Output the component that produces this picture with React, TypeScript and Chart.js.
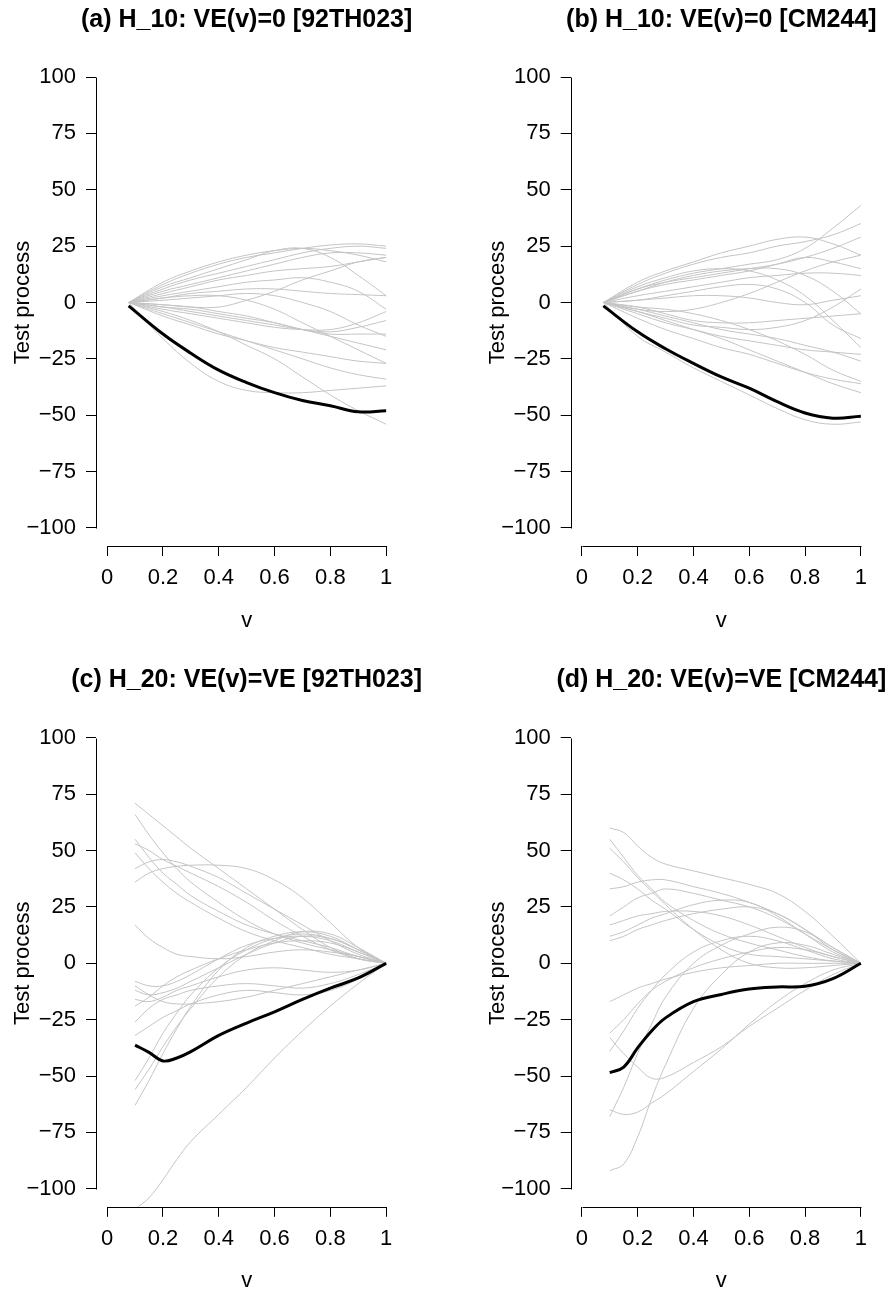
import React, { useEffect, useRef } from "react";
import { Chart, registerables } from "chart.js";
Chart.register(...registerables);

// ---------- data ----------
const vTop = [0.077, 0.2, 0.3, 0.4, 0.5, 0.6, 0.7, 0.8, 0.9, 1.0];
const vBottom = [0.1, 0.15, 0.2, 0.25, 0.3, 0.4, 0.5, 0.6, 0.7, 0.8, 0.9, 1.0];

const xTicks = [0, 0.2, 0.4, 0.6, 0.8, 1];
const yTicks = [-100, -75, -50, -25, 0, 25, 50, 75, 100];

const titles = [
  "(a) H_10: VE(v)=0 [92TH023]",
  "(b) H_10: VE(v)=0 [CM244]",
  "(c) H_20: VE(v)=VE [92TH023]",
  "(d) H_20: VE(v)=VE [CM244]",
];

const blackA = [-1.5, -14, -22.5, -30, -35.5, -40, -43.5, -45.8, -48.5, -48];
const greyA = [
  [0, 8, 13, 17, 20, 22, 24, 25.5, 26, 25],
  [0, 9, 14, 18, 21, 23, 24, 23, 21, 18],
  [0, 6, 10, 13, 16, 19, 22, 24, 25, 24],
  [0, 5, 8, 11, 14, 17, 20, 22, 22, 21],
  [0, 4, 7, 10, 12, 14, 15, 16, 18, 20],
  [0, 7, 11, 15, 19, 23, 24, 20, 12, 3],
  [0, 3, 5, 7, 9, 10, 11, 9, 5, -3],
  [0, -1, -2, -2, 1, 5, 10, 14, 18, 20],
  [0, 2, 4, 5, 6, 6, 5, 4, 3.5, 3],
  [0, 1, 2, 3, 4, 3, 0, -4, -10, -15],
  [0, -2, -4, -6, -8, -10, -12, -13, -11, -8],
  [0, -3, -5, -7, -9, -11, -12, -12, -9, -4],
  [0, -2, -3, -5, -7, -9, -12, -15, -18, -21],
  [0, -1, -2, -4, -6, -9, -12, -14, -14, -14],
  [0, 2, 3, 3, 1, -3, -9, -15, -21, -27],
  [0, -5, -9, -13, -17, -21, -25, -29, -32, -34],
  [0, -16, -27, -35, -39, -40, -40, -39, -38, -37],
  [0, -4, -8, -13, -19, -25, -33, -41, -48, -54],
  [0, -6, -10, -14, -17, -20, -22, -24, -26, -27],
];

const blackB = [-1.5, -13, -20.5, -27, -33, -38, -44, -49, -51.3, -50.5];
const greyB = [
  [0, 9, 14, 18, 22, 25, 28, 29, 26, 21],
  [0, 8, 13, 17, 20, 22, 25, 27, 30, 35],
  [0, 6, 10, 13, 15, 17, 19, 24, 33, 43],
  [0, 6, 9, 11, 13, 15, 17, 20, 24, 29],
  [0, 5, 8, 10, 12, 14, 17, 20, 18, 15],
  [0, 5, 9, 12, 14, 15, 15, 12, 5, -5],
  [0, 7, 11, 14, 15, 14, 10, 3, -8, -20],
  [0, 3, 5, 7, 9, 11, 12, 13, 13, 12],
  [0, 1, 2, 3, 3, 2, 0, -1, 1, 3],
  [0, -3, -4, -3, 0, 4, 9, 14, 18, 21],
  [0, -2, -5, -8, -9, -9, -8, -7, -6, -5],
  [0, -4, -7, -10, -11, -12, -11, -8, -2, 6],
  [0, -3, -6, -9, -12, -14, -16, -19, -22, -26],
  [0, -2, -3, -5, -8, -12, -17, -23, -30, -35],
  [0, -5, -9, -12, -15, -17, -19, -21, -22, -23],
  [0, -4, -8, -12, -16, -21, -26, -31, -36, -40],
  [0, -7, -12, -16, -20, -23, -27, -31, -34, -36],
  [0, -15, -22, -29, -35, -41, -47, -52, -54, -53],
  [0, 1, 3, 5, 7, 8, 6, 0, -10, -16],
];

const blackC = [-36.3, -39.5, -43.3, -42, -39.2, -32, -26.5, -21.5, -16, -11, -6.5, 0];
const greyC = [
  [71, 66, 61, 56, 51, 42, 33, 24, 15, 7, 2, 0],
  [66, 57, 49, 42, 36, 27, 19, 13, 9, 6, 3, 0],
  [55, 47, 40, 35, 30, 23, 17, 13, 10, 7, 3, 0],
  [53, 50, 46, 43, 40, 34, 27, 19, 12, 6, 2, 0],
  [49, 42, 36, 31, 27, 20, 14, 10, 7, 4, 2, 0],
  [42, 45, 46, 45, 43, 38, 31, 24, 17, 10, 4, 0],
  [36, 40, 42, 43, 43.5, 43.5, 42, 37, 29, 18, 7, 0],
  [17, 11, 7, 4, 3, 2, 3, 5, 6, 5, 3, 0],
  [-8, -10, -10, -8, -5, 2, 8, 11, 12, 10, 5, 0],
  [-12, -14, -13, -11, -8, -2, 4, 9, 12, 11, 6, 0],
  [-16, -17, -15, -12, -10, -6, -3, -2, -3, -4, -3, 0],
  [-19, -15, -10, -6, -3, 2, 6, 9, 10, 9, 5, 0],
  [-26, -20, -16, -14, -12, -10, -9, -10, -11, -9, -5, 0],
  [-32, -28, -24, -21, -18, -14, -12, -13, -14, -12, -7, 0],
  [-52, -42, -31, -22, -14, -2, 6, 11, 13, 11, 6, 0],
  [-56, -47, -37, -28, -20, -6, 4, 10, 14, 13, 7, 0],
  [-63, -52, -40, -29, -19, -3, 7, 12, 14, 12, 6, 0],
  [-109, -104, -96, -87, -79, -67, -55, -42, -30, -19, -9, 0],
  [-10, -14, -17, -18, -18, -17, -15, -12, -9, -6, -3, 0],
];

const blackD = [-48.5, -46, -37.5, -30, -24.2, -17, -13.8, -11.4, -10.5, -10.2, -6.8, 0];
const greyD = [
  [60, 58, 52, 47, 44, 41, 38, 35, 31, 23, 12, 0],
  [55, 47, 39, 33, 27, 19, 13, 9, 6, 3, 1, 0],
  [51, 45, 38, 32, 26, 15, 6, 0, -2, -2, -1, 0],
  [40, 37, 33, 28, 24, 15, 8, 4, 3, 2, 1, 0],
  [33, 34, 36, 37, 37, 34, 31, 27, 22, 15, 7, 0],
  [21, 25, 29, 31, 33, 31, 28, 25, 20, 13, 6, 0],
  [12, 14, 17, 20, 22, 26, 28, 27, 21, 13, 5, 0],
  [10, 12, 15, 17, 19, 22, 24, 25, 22, 15, 6, 0],
  [17, 19, 21, 22, 23, 23, 21, 17, 12, 7, 3, 0],
  [-17, -14, -11, -9, -7, -4, -2, -1, 0, 0, 0, 0],
  [-33, -40, -46, -51, -50.5, -44, -37, -28, -20, -12, -5, 0],
  [-39, -30, -20, -12, -5, 5, 10, 12, 10, 6, 2, 0],
  [-65, -67, -66, -62, -58, -48, -38, -27, -17, -9, -3, 0],
  [-92, -89, -77, -60, -45, -20, -5, 5, 9, 8, 4, 0],
  [-68, -55, -40, -27, -15, 0, 8, 13, 16, 14, 7, 0],
  [-31, -25, -18, -12, -8, -2, 2, 5, 7, 6, 3, 0],
];

// ---------- layout (pixels) ----------
const FONT = '"Liberation Sans", Arial, Helvetica, sans-serif';

type Box = {
  left: number; top: number; w: number; h: number;
  padTop: number; padRight: number; yWidth: number; xHeight: number;
  titleY: number; ylabX: number; xlabY: number;
};

const boxes: Box[] = [
  { left: 0, top: 0, w: 444, h: 646, padTop: 59, padRight: 46.7, yWidth: 96, xHeight: 100, titleY: 27, ylabX: 23, xlabY: 627 },
  { left: 444, top: 0, w: 444, h: 646, padTop: 59, padRight: 16, yWidth: 126.7, xHeight: 100, titleY: 27, ylabX: 53.5, xlabY: 627 },
  { left: 0, top: 646, w: 444, h: 647, padTop: 73.8, padRight: 46.7, yWidth: 96, xHeight: 86.2, titleY: 41, ylabX: 23, xlabY: 641 },
  { left: 444, top: 646, w: 444, h: 647, padTop: 73.8, padRight: 16, yWidth: 126.7, xHeight: 86.2, titleY: 41, ylabX: 53.5, xlabY: 641 },
];

const panels = [
  { title: titles[0], v: vTop, grey: greyA, black: blackA },
  { title: titles[1], v: vTop, grey: greyB, black: blackB },
  { title: titles[2], v: vBottom, grey: greyC, black: blackC },
  { title: titles[3], v: vBottom, grey: greyD, black: blackD },
];

const rPlugin = {
  id: "rstyle",
  afterDraw(chart: any) {
    const o = chart.options.plugins.rstyle;
    const { ctx, chartArea } = chart;
    const xs = chart.scales.x;
    const ys = chart.scales.y;
    ctx.save();
    ctx.strokeStyle = "#000";
    ctx.lineWidth = 1;
    const lx = Math.round(chartArea.left) + 0.5;
    const by = Math.round(chartArea.bottom) + 0.5;
    ctx.beginPath();
    ctx.moveTo(lx, Math.round(ys.getPixelForValue(yTicks[yTicks.length - 1])) + 0.5);
    ctx.lineTo(lx, Math.round(ys.getPixelForValue(yTicks[0])) + 0.5);
    ctx.stroke();
    ctx.beginPath();
    ctx.moveTo(Math.round(xs.getPixelForValue(xTicks[0])) + 0.5, by);
    ctx.lineTo(Math.round(xs.getPixelForValue(xTicks[xTicks.length - 1])) + 0.5, by);
    ctx.stroke();

    ctx.fillStyle = "#000";
    const cx = (chartArea.left + chartArea.right) / 2;
    ctx.font = `bold 25px ${FONT}`;
    ctx.textAlign = "center";
    ctx.textBaseline = "alphabetic";
    ctx.fillText(o.title, cx, o.titleY);

    ctx.font = `22px ${FONT}`;
    ctx.fillText("v", cx, o.xlabY);

    ctx.translate(o.ylabX, (chartArea.top + chartArea.bottom) / 2);
    ctx.rotate(-Math.PI / 2);
    ctx.textBaseline = "middle";
    ctx.fillText("Test process", 0, 0);
    ctx.restore();
  },
};

function fmtX(v: number) {
  return Math.abs(v) < 1e-9 ? "0" : Math.abs(v - 1) < 1e-9 ? "1" : v.toFixed(1);
}
function fmtY(v: number) {
  return v < 0 ? "\u2212" + String(-v) : String(v);
}

function Panel({ idx }: { idx: number }) {
  const ref = useRef<HTMLCanvasElement>(null);
  const p = panels[idx];
  const b = boxes[idx];
  useEffect(() => {
    if (!ref.current) return;
    const toPts = (arr: number[]) => arr.map((y, i) => ({ x: p.v[i], y }));
    const datasets: any[] = [
      {
        data: toPts(p.black),
        borderColor: "#000000",
        borderWidth: 3,
        pointRadius: 0,
        fill: false,
        tension: 0.4,
        order: 0,
      },
      ...p.grey.map((g) => ({
        data: toPts(g),
        borderColor: "#c4c4c4",
        borderWidth: 1,
        pointRadius: 0,
        fill: false,
        tension: 0.4,
        order: 1,
      })),
    ];
    const chart = new Chart(ref.current, {
      type: "line",
      data: { datasets },
      options: {
        animation: false,
        responsive: false,
        devicePixelRatio: 1,
        events: [],
        layout: { padding: { left: 0, top: b.padTop, right: b.padRight, bottom: 0 } },
        plugins: {
          legend: { display: false },
          tooltip: { enabled: false },
          title: { display: false },
          rstyle: { title: p.title, titleY: b.titleY, ylabX: b.ylabX, xlabY: b.xlabY },
        } as any,
        scales: {
          x: {
            type: "linear",
            min: -0.04,
            max: 1.04,
            border: { display: false },
            grid: { drawOnChartArea: false, drawTicks: true, tickLength: 10, color: "#000", lineWidth: 1 },
            ticks: {
              color: "#000",
              font: { family: FONT, size: 22 },
              padding: 9,
              maxRotation: 0,
              minRotation: 0,
              autoSkip: false,
              callback: (val: any) => fmtX(Number(val)),
            },
            afterBuildTicks: (s: any) => {
              s.ticks = xTicks.map((value) => ({ value }));
            },
            afterFit: (s: any) => {
              s.height = b.xHeight;
            },
          },
          y: {
            type: "linear",
            min: -108,
            max: 108,
            border: { display: false },
            grid: { drawOnChartArea: false, drawTicks: true, tickLength: 10, color: "#000", lineWidth: 1 },
            ticks: {
              color: "#000",
              font: { family: FONT, size: 22 },
              padding: 10,
              autoSkip: false,
              callback: (val: any) => fmtY(Number(val)),
            },
            afterBuildTicks: (s: any) => {
              s.ticks = yTicks.map((value) => ({ value }));
            },
            afterFit: (s: any) => {
              s.width = b.yWidth;
            },
          },
        },
      } as any,
      plugins: [rPlugin as any],
    });
    return () => chart.destroy();
  }, [idx]);
  return (
    <canvas
      ref={ref}
      width={b.w}
      height={b.h}
      style={{ position: "absolute", left: b.left, top: b.top, width: b.w, height: b.h }}
    />
  );
}

export default function App() {
  return (
    <div style={{ position: "fixed", left: 0, top: 0, width: 888, height: 1293, background: "#fff", overflow: "hidden" }}>
      {panels.map((_, i) => (
        <Panel key={i} idx={i} />
      ))}
    </div>
  );
}
